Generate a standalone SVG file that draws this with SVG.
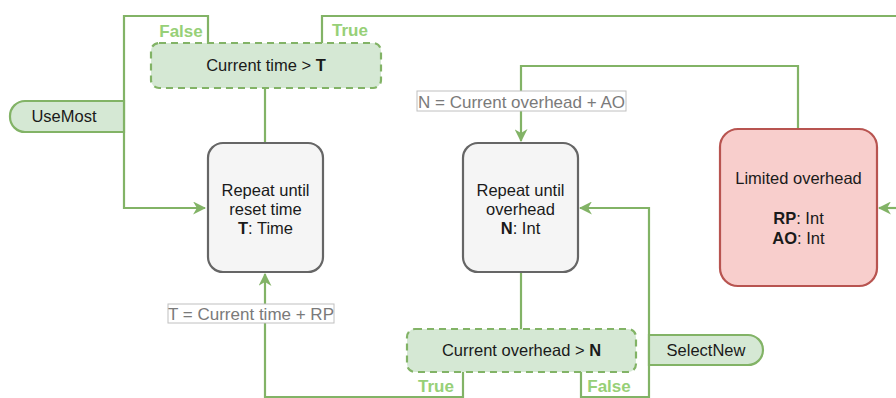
<svg xmlns="http://www.w3.org/2000/svg" width="896" height="398" viewBox="0 0 896 398">
<style>
text{font-family:"Liberation Sans",Arial,Helvetica,sans-serif;font-size:16.5px;fill:#1a1a1a}
.c{text-anchor:middle}
.b{font-weight:bold}
.edge{fill:none;stroke:#82b366;stroke-width:2.2}
.proc{fill:#f5f5f5;stroke:#666666;stroke-width:2.2}
.dec{fill:#d5e8d4;stroke:#82b366;stroke-width:2.2;stroke-dasharray:7 5}
.term{fill:#d5e8d4;stroke:#82b366;stroke-width:2.2}
.lim{fill:#f8cecc;stroke:#b85450;stroke-width:2.2}
.lbl{fill:#ffffff;stroke:#c0c0c0;stroke-width:1}
.lt{fill:#7a7a7a;font-size:17px}
.g{fill:#97d077;font-weight:bold;font-size:17px}
</style>
<defs>
<marker id="arr" viewBox="0 0 12 12" refX="11" refY="6" markerWidth="13" markerHeight="13" markerUnits="userSpaceOnUse" orient="auto">
<path d="M0,0 L12,6 L0,12 L3.5,6 z" fill="#82b366"/>
</marker>
</defs>
<g id="connectors">
<path class="edge" d="M208,43 V16 H124 V208 H205" marker-end="url(#arr)"/>
<path class="edge" d="M322,43 V16 H896"/>
<path class="edge" d="M265,88 V143"/>
<path class="edge" d="M463,372 V397 H265 V274" marker-end="url(#arr)"/>
<path class="edge" d="M798,129 V66 H521 V141" marker-end="url(#arr)"/>
<path class="edge" d="M521,272 V329"/>
<path class="edge" d="M581,372 V397 H649 V208 H580" marker-end="url(#arr)"/>
<path class="edge" d="M896,208 H879" marker-end="url(#arr)"/>
<g id="edge-labels">
<rect class="lbl" x="168" y="304" width="166" height="19"/>
<text class="lt" x="251" y="319.5" text-anchor="middle">T = Current time + RP</text>
<rect class="lbl" x="417" y="91" width="209" height="20"/>
<text class="lt" x="521.5" y="107.5" text-anchor="middle">N = Current overhead + AO</text>
<text class="g" x="181" y="37" text-anchor="middle">False</text>
<text class="g" x="350" y="36" text-anchor="middle">True</text>
<text class="g" x="436" y="392" text-anchor="middle">True</text>
<text class="g" x="609" y="392" text-anchor="middle">False</text>
</g>
</g>
<g id="dec-time">
<rect class="dec" x="151" y="43" width="230" height="45" rx="8"/>
<text class="c" x="266" y="71">Current time &gt; <tspan class="b">T</tspan></text>
</g>
<g id="usemost">
<path class="term" d="M124,101 H25 A15,15 0 0 0 10,116 V117 A15,15 0 0 0 25,132 H124 Z"/>
<text class="c" x="64" y="122">UseMost</text>
</g>
<g id="repeat-time">
<rect class="proc" x="208" y="143" width="115" height="129" rx="15"/>
<text class="c" x="265.5" y="196">Repeat until</text>
<text class="c" x="265.5" y="215">reset time</text>
<text class="c" x="265.5" y="234"><tspan class="b">T</tspan>: Time</text>
</g>
<g id="repeat-overhead">
<rect class="proc" x="463" y="143" width="115" height="129" rx="15"/>
<text class="c" x="520.5" y="196">Repeat until</text>
<text class="c" x="520.5" y="215">overhead</text>
<text class="c" x="520.5" y="234"><tspan class="b">N</tspan>: Int</text>
</g>
<g id="limited">
<rect class="lim" x="720" y="129" width="157" height="157" rx="18"/>
<text class="c" x="798.5" y="184">Limited overhead</text>
<text class="c" x="798.5" y="224"><tspan class="b">RP</tspan>: Int</text>
<text class="c" x="798.5" y="244"><tspan class="b">AO</tspan>: Int</text>
</g>
<g id="dec-overhead">
<rect class="dec" x="407" y="329" width="229" height="43" rx="8"/>
<text class="c" x="521.5" y="356">Current overhead &gt; <tspan class="b">N</tspan></text>
</g>
<g id="selectnew">
<path class="term" d="M649,335 H748 A15,15 0 0 1 763,350 V350 A15,15 0 0 1 748,365 H649 Z"/>
<text class="c" x="706" y="356">SelectNew</text>
</g>
</svg>
